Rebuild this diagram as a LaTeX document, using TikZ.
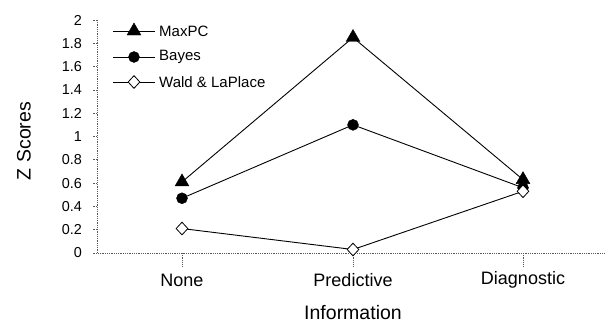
\documentclass[tikz,border=0pt]{standalone}
\usepackage{fontspec}
\setmainfont{Liberation Sans}
\usetikzlibrary{shapes.geometric}
\begin{document}
\begin{tikzpicture}[x=1pt,y=-1pt,
  axisline/.style={draw=black!65,line width=0.8pt,densely dotted},
  series/.style={draw=black,line width=0.9pt},
  tri/.style={regular polygon,regular polygon sides=3,fill=black,draw=black,inner sep=0pt,minimum size=16pt},
  dot/.style={circle,fill=black,draw=black,inner sep=0pt,minimum size=11pt},
  dia/.style={diamond,fill=white,draw=black,line width=0.8pt,inner sep=0pt,minimum width=12pt,minimum height=13pt},
  ticklab/.style={anchor=east,font=\fontsize{14.4}{16}\selectfont,inner sep=0pt},
  catlab/.style={font=\fontsize{18}{20}\selectfont,inner sep=0pt},
  leglab/.style={anchor=west,font=\fontsize{15}{17}\selectfont,inner sep=0pt},
  ttl/.style={font=\fontsize{19.5}{22}\selectfont,inner sep=0pt}]
\useasboundingbox (0,0) rectangle (605,325);
% axes
\coordinate (o) at (97,253);
\coordinate (ytop) at (97,20);
\coordinate (xend) at (605,253);
\draw[axisline] (ytop) -- (o) -- (xend);
% y ticks
\foreach \l [count=\k] in {0,0.2,0.4,0.6,0.8,1,1.2,1.4,1.6,1.8,2}{
  \coordinate (tk\k) at (97,{253-\l*116.5});
  \draw[axisline] (tk\k) -- ++(-4,0);
  \node[ticklab] (yl\k) at ([xshift=-15pt]tk\k) {\l};
}
% x ticks and labels
\foreach \n/\x/\t in {none/182/None,pred/353/Predictive,diag/523/Diagnostic}{
  \coordinate (c\n) at (\x,253);
  \draw[axisline] (c\n) -- ++(0,13);
  \node[catlab] (l\n) at (\x,280) {\t};
}
\node[ttl] (xtitle) at (353,313) {Information};
\node[ttl,rotate=90] (ytitle) at (24,141) {Z Scores};
% data
\newcommand{\yy}[1]{253-#1*116.5}
\path (182,{\yy{0.61}}) coordinate (m1) (353,{\yy{1.85}}) coordinate (m2) (523,{\yy{0.63}}) coordinate (m3);
\path (182,{\yy{0.47}}) coordinate (b1) (353,{\yy{1.10}}) coordinate (b2) (523,{\yy{0.56}}) coordinate (b3);
\path (182,{\yy{0.21}}) coordinate (w1) (353,{\yy{0.03}}) coordinate (w2) (523,{\yy{0.53}}) coordinate (w3);
\draw[series] (m1) -- (m2) -- (m3);
\draw[series] (b1) -- (b2) -- (b3);
\draw[series] (w1) -- (w2) -- (w3);
\foreach \i in {1,2,3}{
  \node[tri] (M\i) at (m\i) {};
  \node[dot] (B\i) at (b\i) {};
}
\foreach \i in {1,2,3}{
  \node[dia] (W\i) at (w\i) {};
}
% legend
\foreach \r/\y/\s/\t in {1/31/tri/MaxPC,2/57/dot/Bayes,3/82/dia/Wald \& LaPlace}{
  \coordinate (la\r) at (113,\y);
  \coordinate (lb\r) at (155,\y);
  \draw[series,line width=0.7pt] (la\r) -- (lb\r);
  \node[\s] (lm\r) at (134,\y) {};
  \node[leglab] (lt\r) at (159,\y) {\t};
}
\end{tikzpicture}
\end{document}
